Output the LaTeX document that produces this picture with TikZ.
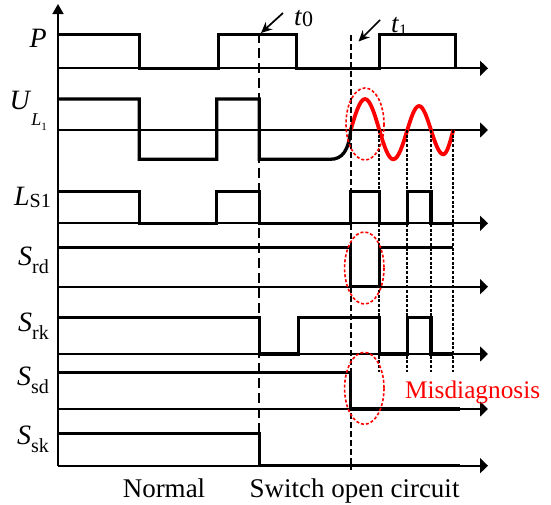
\documentclass[tikz,border=0pt]{standalone}
\usepackage{fontspec}
\setmainfont{Liberation Serif}
\usetikzlibrary{arrows.meta}
\begin{document}
\begin{tikzpicture}[x=1pt,y=-1pt,
  sig/.style={line width=3.3pt},
  axl/.style={line width=1.7pt,-{Triangle[length=8pt,width=15pt]}},
  tzero/.style={line width=1.8pt,dash pattern=on 10pt off 5pt},
  tone/.style={line width=1.8pt,dash pattern=on 6pt off 3pt},
  dotl/.style={line width=1.8pt,dash pattern=on 3pt off 1.7pt},
  redell/.style={red,line width=1.6pt,dash pattern=on 3pt off 2pt},
  lab/.style={font=\fontsize{28}{30}\selectfont,anchor=east,inner sep=0pt},
  txt/.style={font=\fontsize{27}{29}\selectfont,inner sep=0pt},
  tarr/.style={line width=1.7pt,-{Stealth[length=11pt,width=10pt]}}]
\useasboundingbox (0,0) rectangle (551,504);
% vertical axis
\coordinate (vb) at (58,466);
\coordinate (vt) at (58,4);
\draw[line width=1.7pt,-{Triangle[length=10pt,width=11pt]}] (vb) -- (vt);
% horizontal axes
\foreach \n/\y in {a/68.3,b/130,c/223.3,d/286.7,e/354,f/409,g/465.7}{
  \coordinate (\n0) at (58,\y);
  \coordinate (\n1) at (488,\y);
  \draw[axl] (\n0) -- (\n1);
}
% signals
\draw[sig] (58,34.3) -- (139.3,34.3) -- (139.3,68.3) -- (218.3,68.3) -- (218.3,34.3) -- (296.7,34.3) -- (296.7,68.3) -- (379.3,68.3) -- (379.3,34.3) -- (455.7,34.3) -- (455.7,68.3);
\draw[sig] (58,99) -- (139.3,99) -- (139.3,159.3) -- (216.7,159.3) -- (216.7,99) -- (259.3,99) -- (259.3,159.3) -- (330,159.3) .. controls (343,159.3) and (348.5,150) .. (350.7,130);
\draw[sig] (58,191.7) -- (139.3,191.7) -- (139.3,223.3) -- (216.7,223.3) -- (216.7,191.7) -- (259.3,191.7) -- (259.3,223.3) -- (350.7,223.3) -- (350.7,191.7) -- (379.3,191.7) -- (379.3,223.3) -- (407.3,223.3) -- (407.3,191.7) -- (431,191.7) -- (431,223.3) -- (453.3,223.3);
\draw[sig] (58,247.7) -- (350.7,247.7) -- (350.7,286.7) -- (379.3,286.7) -- (379.3,247.7) -- (453.3,247.7);
\draw[sig] (58,317.7) -- (259.3,317.7) -- (259.3,354) -- (298.3,354) -- (298.3,317.7) -- (379.3,317.7) -- (379.3,354) -- (407.3,354) -- (407.3,317.7) -- (431,317.7) -- (431,354) -- (453.3,354);
\draw[sig] (58,372.3) -- (350.7,372.3) -- (350.7,409) -- (460,409);
\draw[sig] (58,433.3) -- (259.3,433.3) -- (259.3,465.7) -- (460,465.7);
% red oscillation
\draw[red,line width=3.8pt] (350.7,130) sin (365,99) cos (379.3,130) sin (393.3,159.3) cos (407.3,130) sin (419,106) cos (431,130) sin (443.3,154.3) cos (453.3,130);
% vertical marker lines
\draw[tzero] (259.3,33) -- (259.3,467);
\draw[tone] (350.7,35) -- (350.7,470);
\foreach \x in {379.3,407.3,431,453.3}{
  \draw[dotl] (\x,130) -- (\x,372);
}
% red ellipses
\draw[redell] (365,124) ellipse [x radius=19, y radius=36];
\draw[redell] (364.3,268) ellipse [x radius=19.7, y radius=36];
\draw[redell] (364.3,388.3) ellipse [x radius=19.7, y radius=36];
% time arrows
\coordinate (a0s) at (283,13);
\coordinate (a0e) at (261,33);
\draw[tarr] (a0s) -- (a0e);
\coordinate (a1s) at (380,20);
\coordinate (a1e) at (358.5,41.5);
\draw[tarr] (a1s) -- (a1e);
\node[txt,anchor=base west] (t0) at (294,25) {\textit{t}\raisebox{-0.12ex}{\fontsize{22}{23}\selectfont 0}};
\node[txt,anchor=base west] (t1) at (391,32) {\textit{t}\raisebox{-0.25ex}{\fontsize{16}{17}\selectfont 1}};
% labels
\node[lab] (lP) at (47,38) {\textit{P}};
\node[lab] (lU) at (47,111) {\textit{U}\raisebox{-1.2ex}{\fontsize{18}{19}\selectfont\textit{L}\raisebox{-0.6ex}{\fontsize{11}{12}\selectfont 1}}};
\node[lab] (lL) at (51,197) {\textit{L}\raisebox{-0.15ex}{\fontsize{20}{21}\selectfont S1}};
\node[lab] (lSrd) at (49,260) {\textit{S}\raisebox{-0.6ex}{\fontsize{20}{21}\selectfont rd}};
\node[lab] (lSrk) at (49,326) {\textit{S}\raisebox{-0.6ex}{\fontsize{20}{21}\selectfont rk}};
\node[lab] (lSsd) at (49,380) {\textit{S}\raisebox{-0.6ex}{\fontsize{20}{21}\selectfont sd}};
\node[lab] (lSsk) at (49,439) {\textit{S}\raisebox{-0.6ex}{\fontsize{20}{21}\selectfont sk}};
% bottom texts
\node[txt,anchor=base] (normal) at (164,497) {Normal};
\node[txt,anchor=base] (soc) at (354.5,497) {Switch open circuit};
\node[txt,anchor=base west,text=red,font=\fontsize{25.3}{27}\selectfont] (mis) at (405,398) {Misdiagnosis};
\end{tikzpicture}
\end{document}
